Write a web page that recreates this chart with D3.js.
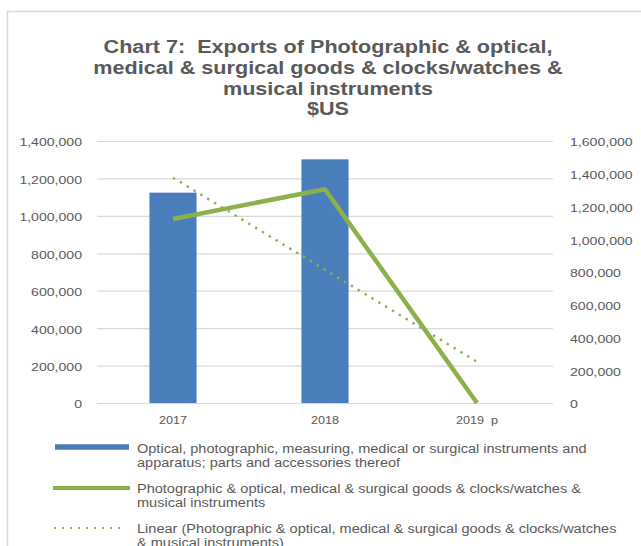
<!DOCTYPE html>
<html><head><meta charset="utf-8">
<script src="https://cdn.jsdelivr.net/npm/d3@7"></script>
<style>
body{margin:0;background:#fff}
text{font-family:"Liberation Sans",Arial,sans-serif;white-space:pre;fill:#595959}
</style>
</head><body>
<svg id="c" width="641" height="546"></svg>
<script>
// ---- data ----
const categories = ["2017", "2018", "2019  p"];
const barValues = [1124000, 1302000, 0];
const lineValues = [1124000, 1305000, 0];
const trendValues = [1376000, 814000, 252000];
const leftTicks = [0, 200000, 400000, 600000, 800000, 1000000, 1200000, 1400000];
const rightTicks = [0, 200000, 400000, 600000, 800000, 1000000, 1200000, 1400000, 1600000];
const titleLines = ["Chart 7:  Exports of Photographic & optical,", "medical & surgical goods & clocks/watches &", "musical instruments", "$US"];
const legendBar = ["Optical, photographic, measuring, medical or surgical instruments and", "apparatus; parts and accessories thereof"];
const legendLine = ["Photographic & optical, medical & surgical goods & clocks/watches &", "musical instruments"];
const legendTrend = ["Linear (Photographic & optical, medical & surgical goods & clocks/watches", "& musical instruments)"];

// ---- styles ----
const BAR = "#4a7ebb", GREEN = "#8db04c", GRID = "#d9d9d9";
const SX_TITLE = 1.2, SX_AXIS = 1.28, SX_LEG = 1.21;
function stretch(sel, sx) {
  sel.each(function () {
    const w = this.getComputedTextLength();
    this.setAttribute("textLength", w * sx);
    this.setAttribute("lengthAdjust", "spacingAndGlyphs");
  });
}

const svg = d3.select("#c");
const L = 97, R = 553, T = 141, B = 403;

// border
svg.append("rect").attr("x", 7.5).attr("y", 11.5).attr("width", 700).attr("height", 600)
  .attr("fill", "none").attr("stroke", GRID).attr("stroke-width", 1.5);

// title
const titleG = svg.append("g");
titleLines.forEach((s, i) => titleG.append("text").attr("text-anchor", "middle")
  .attr("font-size", 18).attr("font-weight", "bold").attr("x", 328).attr("y", 53 + i * 20.8).text(s));
stretch(titleG.selectAll("text"), SX_TITLE);

// scales
const x = d3.scaleBand().domain(categories).range([L, R]).padding(0);
const yL = d3.scaleLinear().domain([0, 1400000]).range([B, T]);
const yR = d3.scaleLinear().domain([0, 1600000]).range([B, T]);

// gridlines
svg.append("g").selectAll("line").data(leftTicks).join("line")
  .attr("x1", L).attr("x2", R).attr("y1", d => yL(d) + 0.5).attr("y2", d => yL(d) + 0.5)
  .attr("stroke", GRID).attr("stroke-width", 1.2);

// axes
const fmt = d3.format(",");
const gL = svg.append("g").attr("transform", `translate(${L},0)`)
  .call(d3.axisLeft(yL).tickValues(leftTicks).tickSize(0).tickPadding(15).tickFormat(fmt));
const gR = svg.append("g").attr("transform", `translate(${R},0)`)
  .call(d3.axisRight(yR).tickValues(rightTicks).tickSize(0).tickPadding(17).tickFormat(fmt));
const gB = svg.append("g").attr("transform", `translate(0,${B})`)
  .call(d3.axisBottom(x).tickSize(0).tickPadding(13));
[gL, gR, gB].forEach(g => {
  g.select(".domain").remove();
  g.selectAll("text").attr("font-size", 11).attr("fill", "#595959")
    .style("font-family", '"Liberation Sans",Arial,sans-serif');
});
gL.selectAll("text").attr("dy", "0.45em");
gR.selectAll("text").attr("dy", "0.45em");
stretch(gL.selectAll("text"), SX_AXIS);
stretch(gR.selectAll("text"), SX_AXIS);
stretch(gB.selectAll("text"), 1.15);

// bars
const bw = x.bandwidth() * 0.31;
svg.append("g").selectAll("rect").data(barValues.map((v, i) => ({ c: categories[i], v })))
  .join("rect")
  .attr("x", d => x(d.c) + x.bandwidth() / 2 - bw / 2)
  .attr("y", d => yL(d.v)).attr("width", bw).attr("height", d => B - yL(d.v))
  .attr("fill", BAR);

// green line (secondary axis)
const cx = c => x(c) + x.bandwidth() / 2;
const line = d3.line().x((d, i) => cx(categories[i])).y(d => yR(d));
svg.append("path").datum(lineValues).attr("d", line)
  .attr("fill", "none").attr("stroke", GREEN).attr("stroke-width", 4.5)
  .attr("stroke-linejoin", "round");

// trend line
svg.append("path").datum(trendValues).attr("d", line)
  .attr("fill", "none").attr("stroke", GREEN).attr("stroke-width", 2.4)
  .attr("stroke-dasharray", "2.4,5.6");

// legend
const lg = svg.append("g");
lg.append("line").attr("x1", 55).attr("x2", 129).attr("y1", 447).attr("y2", 447)
  .attr("stroke", BAR).attr("stroke-width", 5.5);
lg.append("line").attr("x1", 53).attr("x2", 130).attr("y1", 488).attr("y2", 488)
  .attr("stroke", GREEN).attr("stroke-width", 4);
lg.append("line").attr("x1", 54).attr("x2", 126).attr("y1", 528).attr("y2", 528)
  .attr("stroke", GREEN).attr("stroke-width", 2).attr("stroke-dasharray", "2,6");
const legTexts = [[legendBar, 452.5], [legendLine, 492.5], [legendTrend, 532.5]];
legTexts.forEach(([lines, y0]) => lines.forEach((s, i) =>
  lg.append("text").attr("class", "lt").attr("x", 137).attr("y", y0 + i * 14.2)
    .attr("font-size", 12).text(s)));
stretch(lg.selectAll("text.lt"), SX_LEG);
</script>
</body></html>
